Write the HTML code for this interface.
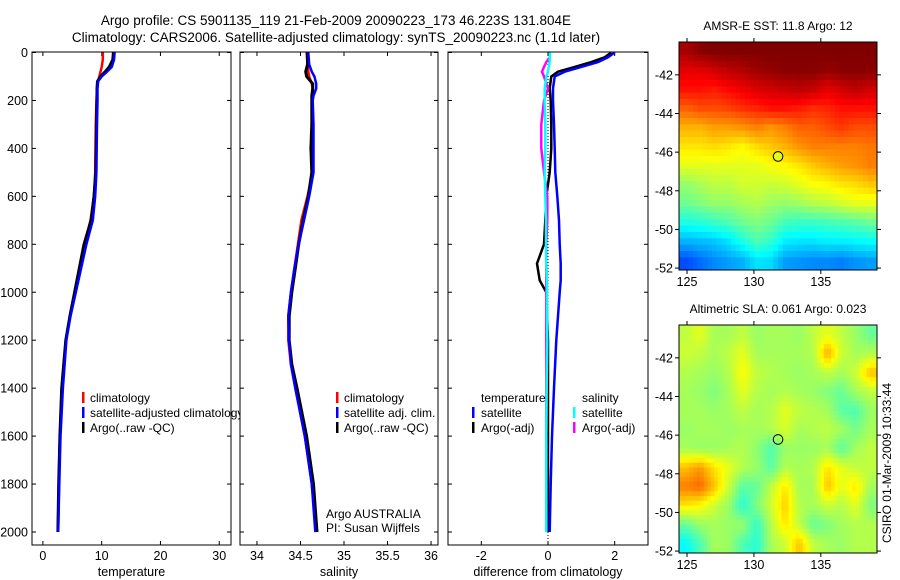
<!DOCTYPE html>
<html><head><meta charset="utf-8">
<style>
html,body{margin:0;padding:0;background:#fff;}
svg{display:block;font-family:"Liberation Sans",sans-serif;}
text{fill:#000;}
</style></head>
<body>
<svg id="fig" width="900" height="580" viewBox="0 0 900 580" xmlns="http://www.w3.org/2000/svg">
<rect width="900" height="580" fill="#fff"/>
<text x="336" y="25" font-size="13.5" text-anchor="middle">Argo profile: CS 5901135_119 21-Feb-2009 20090223_173 46.223S 131.804E</text>
<text x="336" y="42" font-size="13.5" text-anchor="middle">Climatology: CARS2006. Satellite-adjusted climatology: synTS_20090223.nc (1.1d later)</text>
<g id="layer"></g>
<text transform="translate(891,463) rotate(-90)" font-size="12" text-anchor="middle">CSIRO 01-Mar-2009 10:33:44</text>
</svg>
<script>
// ---------- profile data ----------
const tempDepth = [0,30,60,80,100,120,150,200,300,500,600,700,800,900,1000,1100,1200,1400,1600,1800,2000];
const tempArgo  = [12.0,11.9,11.3,10.6,9.8,9.3,9.2,9.2,9.1,9.0,8.7,8.2,7.0,6.2,5.4,4.6,3.9,3.2,2.9,2.7,2.55];
const tempSat   = [12.2,12.1,11.7,10.9,10.0,9.4,9.3,9.3,9.2,9.1,8.9,8.5,7.4,6.5,5.6,4.7,4.0,3.4,3.0,2.8,2.6];
const tempClim  = [10.2,10.2,10.0,9.8,9.6,9.4,9.2,9.1,9.0,8.9,8.7,8.1,7.1,6.3,5.5,4.6,3.9,3.2,2.9,2.7,2.55];

const salDepth = [0,50,80,100,130,150,180,200,300,400,500,600,700,800,900,1000,1100,1200,1300,1400,1600,1800,2000];
const salArgo  = [34.58,34.58,34.56,34.57,34.64,34.64,34.63,34.63,34.63,34.62,34.63,34.59,34.53,34.48,34.44,34.40,34.37,34.37,34.40,34.46,34.57,34.65,34.69];
const salSat   = [34.59,34.60,34.63,34.66,34.68,34.68,34.65,34.64,34.65,34.65,34.65,34.60,34.54,34.48,34.43,34.39,34.36,34.37,34.39,34.44,34.55,34.63,34.67];
const salClim  = [34.57,34.58,34.59,34.60,34.63,34.64,34.64,34.63,34.64,34.64,34.64,34.58,34.51,34.47,34.43,34.39,34.36,34.36,34.39,34.44,34.55,34.63,34.68];

const diffDepth = [0,20,40,60,80,100,150,200,300,400,500,600,700,800,880,950,1000,1200,1400,1600,1800,2000];
const diffTempArgo = [1.9,1.7,1.3,0.8,0.3,0.1,0.05,0.08,0.1,0.1,0.05,-0.05,-0.08,-0.12,-0.33,-0.25,-0.05,0.0,0.0,0.0,0.0,0.0];
const diffTempSat  = [2.0,1.8,1.5,1.0,0.5,0.2,0.15,0.15,0.18,0.2,0.22,0.28,0.33,0.35,0.38,0.38,0.35,0.25,0.18,0.12,0.08,0.05];
const diffSalSat   = [0.05,0.05,0.05,0.02,0.0,-0.05,-0.1,-0.1,-0.08,-0.08,-0.1,-0.08,-0.06,-0.06,-0.05,-0.03,-0.03,-0.02,-0.04,-0.05,-0.05,-0.05];
const diffSalArgo  = [0.05,0.05,-0.05,-0.12,-0.18,-0.12,0.0,-0.12,-0.2,-0.2,-0.12,-0.02,-0.02,-0.05,-0.05,-0.05,-0.05,-0.05,-0.05,-0.05,-0.05,-0.05];

// ---------- map data ----------
const sstLonEdges = [124.4,139.2];
const sstLatEdges = [-40.3,-52.1];
const sstGrid = [
[15.6,15.9,16.0,16.0,16.0,16.0,16.0,16.0,16.0,16.0,16.0,16.0,16.0,16.0],
[15.0,15.0,15.2,15.4,15.5,15.7,15.8,15.9,15.9,15.9,15.8,15.9,15.9,15.9],
[14.6,14.6,14.5,14.7,14.9,15.1,15.2,15.3,15.4,15.3,15.0,15.2,15.4,15.2],
[13.8,14.0,14.0,14.1,14.3,14.4,14.6,14.6,14.5,14.3,14.4,14.6,14.6,14.6],
[13.0,13.0,13.2,13.2,13.3,13.5,13.3,13.5,13.8,13.8,14.0,14.2,14.0,14.0],
[12.5,12.5,12.6,12.5,12.3,12.6,12.8,13.0,13.3,13.5,13.5,13.5,13.5,13.6],
[12.0,12.0,12.0,12.0,12.0,12.0,12.2,12.3,12.5,12.8,13.0,13.2,13.3,13.5],
[11.2,11.4,11.6,11.6,11.8,11.8,11.7,11.8,12.0,12.2,12.3,12.5,12.6,12.8],
[10.8,11.0,11.2,11.2,11.4,11.5,11.3,11.2,11.3,11.5,11.6,11.8,12.0,12.0],
[10.0,10.1,10.3,10.5,10.8,11.0,10.8,10.4,10.3,10.3,10.4,10.5,10.6,10.8],
[9.0,9.1,9.2,9.5,10.0,10.5,10.2,9.6,9.5,9.5,9.6,9.6,9.7,9.8],
[8.0,8.3,8.6,8.8,9.0,9.5,9.4,8.8,8.7,8.6,8.6,8.5,8.7,8.8]
];
const sstRange = [6,16];
const slaGrid = [
[0.05,0.08,0.03,0.03,0.05,0.02,0.03,0.03,0.02,0.05,0.08,0.05,0.02,-0.02],
[0.06,0.05,0.03,0.05,0.08,0.03,0.03,0.03,0.03,0.04,0.17,0.06,0.03,0.04],
[0.04,0.03,0.02,0.04,0.10,0.05,0.04,0.03,0.02,0.03,0.05,0.03,0.06,0.15],
[0.03,0.02,0.00,0.03,0.08,0.04,0.03,0.04,0.03,0.02,0.00,-0.02,0.03,0.05],
[0.03,0.03,0.02,0.03,0.05,0.03,0.04,0.08,0.05,0.04,0.03,-0.03,-0.04,0.02],
[0.02,0.03,0.03,0.02,0.03,0.03,0.04,0.07,0.03,0.04,0.05,0.03,-0.01,0.03],
[0.03,0.02,0.02,0.03,0.04,0.01,-0.04,0.02,0.02,0.02,0.03,-0.03,0.03,0.05],
[0.15,0.18,0.12,0.08,0.04,0.02,-0.03,0.04,0.03,0.04,0.12,0.08,0.05,0.05],
[0.20,0.22,0.15,0.06,-0.03,-0.02,0.05,0.12,0.03,0.03,0.15,0.08,0.12,0.03],
[0.12,0.10,0.06,0.02,-0.07,0.00,0.06,0.14,0.04,0.03,0.06,0.04,0.08,0.00],
[-0.02,0.02,0.03,0.02,0.02,-0.06,0.04,0.12,0.05,-0.02,0.00,0.03,0.04,0.04],
[-0.10,-0.04,0.03,0.02,-0.04,-0.07,0.03,0.06,0.15,0.05,0.03,0.02,0.04,0.04]
];
const slaRange = [-0.4,0.4];
const floatPos = [131.804,-46.223];
const floatSST = 12;

const depthTicks = [0,200,400,600,800,1000,1200,1400,1600,1800,2000];
const tempTicks = [0,10,20,30];
const salTicks = [34,34.5,35,35.5,36];
const diffTicks = [-2,0,2];
const lonTicks = [125,130,135];
const latTicks = [-42,-44,-46,-48,-50,-52];

const NS="http://www.w3.org/2000/svg";
const layer=document.getElementById('layer');
function mk(tag,attrs,parent){const e=document.createElementNS(NS,tag);for(const k in attrs)e.setAttribute(k,attrs[k]);(parent||layer).appendChild(e);return e;}
function lin(d0,d1,r0,r1){return v=>r0+(v-d0)*(r1-r0)/(d1-d0);}
function jet(t){t=Math.max(0,Math.min(1,t));const c=x=>Math.round(255*Math.max(0,Math.min(1,x)));return `rgb(${c(1.5-Math.abs(4*t-3))},${c(1.5-Math.abs(4*t-2))},${c(1.5-Math.abs(4*t-1))})`;}

const Y=lin(0,2000,52.5,532);
function profilePanel(name,x0,x1,dom,ticks,label,yLabels){
  const X=lin(dom[0],dom[1],x0,x1);
  const g=mk('g',{});
  
  
  const fr=mk('rect',{x:x0,y:52,width:x1-x0,height:493,fill:'#fff',stroke:'#000','stroke-width':1},g);
  
  
  depthTicks.forEach(d=>{
    mk('line',{x1:x0,x2:x0+4,y1:Y(d),y2:Y(d),stroke:'#000'},g);
    mk('line',{x1:x1-4,x2:x1,y1:Y(d),y2:Y(d),stroke:'#000'},g);
    if(yLabels){const t=mk('text',{x:x0-4,y:Y(d)+4.5,'font-size':12.5,'text-anchor':'end'},g);t.textContent=d;
      
      }
  });
  ticks.forEach(v=>{
    mk('line',{x1:X(v),x2:X(v),y1:545,y2:541,stroke:'#000'},g);
    mk('line',{x1:X(v),x2:X(v),y1:52,y2:56,stroke:'#000'},g);
    const t=mk('text',{x:X(v),y:560,'font-size':12.5,'text-anchor':'middle'},g);t.textContent=v;
    
    
  });
  const l=mk('text',{x:(x0+x1)/2,y:576,'font-size':12.5,'text-anchor':'middle'},g);l.textContent=label;
  
  
  return {g,X};
}
function line(g,X,depths,vals,color,w,nm){
  const p=mk('polyline',{points:depths.map((d,i)=>X(vals[i]).toFixed(1)+','+Y(d).toFixed(1)).join(' '),fill:'none',stroke:color,'stroke-width':w},g);
  
  
}
function legend(g,x,y,items,barDx){
  items.forEach((it,i)=>{
    if(it[1]){const r=mk('rect',{x:x,y:y+i*15-10,width:2.5,height:11,fill:it[1]},g);
      
      }
    const t=mk('text',{x:x+(barDx||8),y:y+i*15,'font-size':12},g);t.textContent=it[0];
    
    
  });
}

const p1=profilePanel('temperature',32,231,[-1.85,32.0],tempTicks,'temperature',true);
line(p1.g,p1.X,tempDepth,tempClim,'#f00',2.5,'temp-climatology-line');
line(p1.g,p1.X,tempDepth,tempArgo,'#000',3,'temp-argo-line');
line(p1.g,p1.X,tempDepth,tempSat,'#00f',2.5,'temp-satellite-line');
const p2=profilePanel('salinity',240,438,[33.805,36.08],salTicks,'salinity',false);
line(p2.g,p2.X,salDepth,salClim,'#f00',2.5,'sal-climatology-line');
line(p2.g,p2.X,salDepth,salArgo,'#000',3,'sal-argo-line');
line(p2.g,p2.X,salDepth,salSat,'#00f',2.5,'sal-satellite-line');
legend(p1.g,82,402,[['climatology','#f00'],['satellite-adjusted climatology','#00f'],['Argo(..raw -QC)','#000']]);
p1.g.parentNode.appendChild(p2.g);
legend(p2.g,336,402,[['climatology','#f00'],['satellite adj. clim.','#00f'],['Argo(..raw -QC)','#000']]);
const a1=mk('text',{x:326,y:518,'font-size':12},p2.g);a1.textContent='Argo AUSTRALIA';

const a2=mk('text',{x:326,y:532,'font-size':12},p2.g);a2.textContent='PI: Susan Wijffels';

const p3=profilePanel('difference',448,648,[-3.0,3.0],diffTicks,'difference from climatology',false);
mk('line',{x1:p3.X(0),x2:p3.X(0),y1:52,y2:545,stroke:'#000','stroke-dasharray':'1,2','stroke-width':1},p3.g);
line(p3.g,p3.X,diffDepth,diffTempArgo,'#000',2.5,'diff-temp-argo-line');
line(p3.g,p3.X,diffDepth,diffTempSat,'#00f',2.5,'diff-temp-satellite-line');
line(p3.g,p3.X,diffDepth,diffSalArgo,'#f0f',2.5,'diff-sal-argo-line');
line(p3.g,p3.X,diffDepth,diffSalSat,'#0ff',2.5,'diff-sal-satellite-line');
legend(p3.g,472,402,[['temperature',null],['satellite','#00f'],['Argo(-adj)','#000']],9);
legend(p3.g,573,402,[['salinity',null],['satellite','#0ff'],['Argo(-adj)','#f0f']],9);

function sample(grid,fr,fc){
  const nr=grid.length,nc=grid[0].length;
  const r=Math.max(0,Math.min(nr-1,fr)),c=Math.max(0,Math.min(nc-1,fc));
  const r0=Math.floor(r),c0=Math.floor(c),r1=Math.min(nr-1,r0+1),c1=Math.min(nc-1,c0+1);
  const a=r-r0,b=c-c0;
  return grid[r0][c0]*(1-a)*(1-b)+grid[r0][c1]*(1-a)*b+grid[r1][c0]*a*(1-b)+grid[r1][c1]*a*b;
}
function mapPanel(name,top,bottom,grid,range,title,filledCircle,sub){
  const x0=679,x1=877;
  const X=lin(sstLonEdges[0],sstLonEdges[1],x0,x1);
  const Yl=lin(sstLatEdges[0],sstLatEdges[1],top,bottom);
  const g=mk('g',{});
  
  
  const nr=grid.length,nc=grid[0].length;
  const NR=nr*sub,NC=nc*sub;
  const cw=(x1-x0)/NC,ch=(bottom-top)/NR;
  for(let r=0;r<NR;r++)for(let c=0;c<NC;c++){
    const v=sub>1?sample(grid,(r+0.5)/sub-0.5,(c+0.5)/sub-0.5):grid[r][c];
    const cell=mk('rect',{x:(x0+c*cw).toFixed(2),y:(top+r*ch).toFixed(2),width:(cw+0.5).toFixed(2),height:(ch+0.5).toFixed(2),fill:jet((v-range[0])/(range[1]-range[0]))},g);
    
    
  }
  mk('rect',{x:x0,y:top,width:x1-x0,height:bottom-top,fill:'none',stroke:'#000'},g);
  lonTicks.forEach(v=>{
    mk('line',{x1:X(v),x2:X(v),y1:top,y2:top-4,stroke:'#000'},g);
    mk('line',{x1:X(v),x2:X(v),y1:bottom,y2:bottom+4,stroke:'#000'},g);
    const t=mk('text',{x:X(v),y:bottom+16,'font-size':12.5,'text-anchor':'middle'},g);t.textContent=v;
    
  });
  latTicks.forEach(v=>{
    mk('line',{x1:x0,x2:x0-4,y1:Yl(v),y2:Yl(v),stroke:'#000'},g);
    mk('line',{x1:x1,x2:x1+4,y1:Yl(v),y2:Yl(v),stroke:'#000'},g);
    const t=mk('text',{x:x0-6,y:Yl(v)+4.5,'font-size':12.5,'text-anchor':'end'},g);t.textContent=v;
    
  });
  const ti=mk('text',{x:(x0+x1)/2,y:top-12,'font-size':12,'text-anchor':'middle'},g);ti.textContent=title;
  
  const ci=mk('circle',{cx:X(floatPos[0]),cy:Yl(floatPos[1]),r:4.8,fill:filledCircle?jet((floatSST-range[0])/(range[1]-range[0])):'none',stroke:'#000','stroke-width':1},g);
  
}
mapPanel('sst',42,270,sstGrid,sstRange,'AMSR-E SST: 11.8 Argo: 12',true,3);
mapPanel('sla',325,553,slaGrid,slaRange,'Altimetric SLA: 0.061 Argo: 0.023',false,4);
</script>
</body></html>
